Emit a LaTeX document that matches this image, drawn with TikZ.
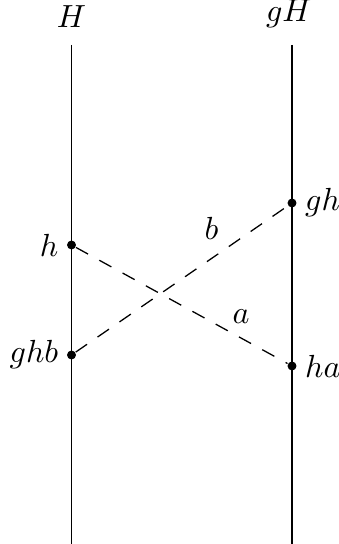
\documentclass[tikz,border=0pt]{standalone}
\usepackage{amsmath,amssymb}
\usepackage{tikz}
\usetikzlibrary{positioning, calc}
\tikzset{
	coset/.style={line width=0.4pt, black},
	dot/.style={circle, fill=black, inner sep=0pt, minimum size=2.8pt},
	link/.style={line width=0.4pt, dash pattern=on 4.3pt off 4pt}
}

\begin{document}
\begin{tikzpicture}[x=0.3125pt, y=-0.3125pt]
		\useasboundingbox (0,0) rectangle (338,544);
		% Rectas de las clases
		\coordinate (Htop) at (71.5,45);
		\coordinate (Hbot) at (71.5,544);
		\coordinate (gHtop) at (292,45);
		\coordinate (gHbot) at (292,544);
		\draw [coset] (Htop) -- (Hbot);
		\draw [coset] (gHtop) -- (gHbot);
		\node [above=1.8pt of Htop] {$H$};
		\node [above=1.8pt of gHtop, xshift=-1pt] {$gH$};
		
		% Puntos
		\node [dot, label={[label distance=-1pt]left:$h$}] (h) at (71.5,245) {};
		\node [dot, label={[label distance=-1pt]left:$ghb$}] (ghb) at (71.5,355) {};
		\node [dot, label={[label distance=-1pt]right:$gh$}] (gh) at (292,203) {};
		\node [dot, label={[label distance=-1pt]right:$ha$}] (ha) at (292,366) {};
		
		% Multiplicaciones
		\draw [link] (ghb) -- node [pos=0.64, above=2.5pt] {$b$} (gh);
		\draw [link] (h) -- node [pos=0.78, above=1pt] {$a$} (ha);
	\end{tikzpicture}
\end{document}
